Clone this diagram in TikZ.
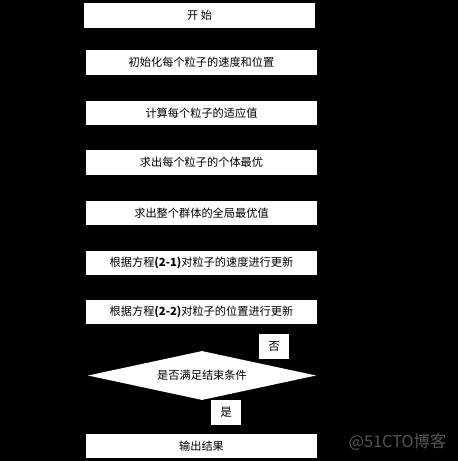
\documentclass[tikz,border=0pt]{standalone}
\usepackage{fontspec}
\newfontfamily\cjk{Noto Sans CJK SC}
\usetikzlibrary{shapes.geometric,arrows.meta}
\definecolor{wmgray}{RGB}{85,85,85}
\begin{document}
\begin{tikzpicture}[x=1pt,y=-1pt,
  stepbox/.style={fill=white,draw=none,minimum width=231pt,minimum height=24.5pt,inner sep=0pt,font=\cjk\fontsize{11.2}{11.2}\selectfont,text=black},
  labbox/.style={fill=white,draw=none,minimum width=30pt,minimum height=25pt,inner sep=0pt,font=\cjk\fontsize{11.5}{11.5}\selectfont,text=black},
  decide/.style={diamond,aspect=4.65,fill=white,draw=none,minimum width=228pt,minimum height=49pt,inner sep=0pt,font=\cjk\fontsize{11.2}{11.2}\selectfont,text=black},
  link/.style={draw=black,-{Latex[length=4pt]}}]
\fill[black] (0,0) rectangle (458,461);
\useasboundingbox (0,0) rectangle (458,461);
\node[stepbox,minimum height=25pt] (b1) at (199.5,15.5) {开 始};
\node[stepbox] (b2) at (201.5,62.5) {初始化每个粒子的速度和位置};
\node[stepbox] (b3) at (201.5,113) {计算每个粒子的适应值};
\node[stepbox] (b4) at (201.5,162.5) {求出每个粒子的个体最优};
\node[stepbox] (b5) at (201.5,213) {求出整个群体的全局最优值};
\node[stepbox] (b6) at (201.5,263) {根据方程\textbf{(2-1)}对粒子的速度进行更新};
\node[stepbox] (b7) at (201.5,312) {根据方程\textbf{(2-2)}对粒子的位置进行更新};
\node[decide] (d) at (202,375.5) {是否满足结束条件};
\node[labbox] (no) at (274,346) {否};
\node[labbox] (yes) at (226,412) {是};
\node[stepbox] (b8) at (201.5,446) {输出结果};
\node[font=\cjk\fontsize{16.3}{16.3}\selectfont,text=wmgray,inner sep=0pt] (wm) at (397.5,441.5) {@51CTO博客};
\draw[link] (b1) -- (b2);
\draw[link] (b2) -- (b3);
\draw[link] (b3) -- (b4);
\draw[link] (b4) -- (b5);
\draw[link] (b5) -- (b6);
\draw[link] (b6) -- (b7);
\draw[link] (b7) -- (d);
\draw[link] (d) -- (b8);
\draw[link] (d.east) -- ++(20,0) |- (b3.east);
\end{tikzpicture}
\end{document}
